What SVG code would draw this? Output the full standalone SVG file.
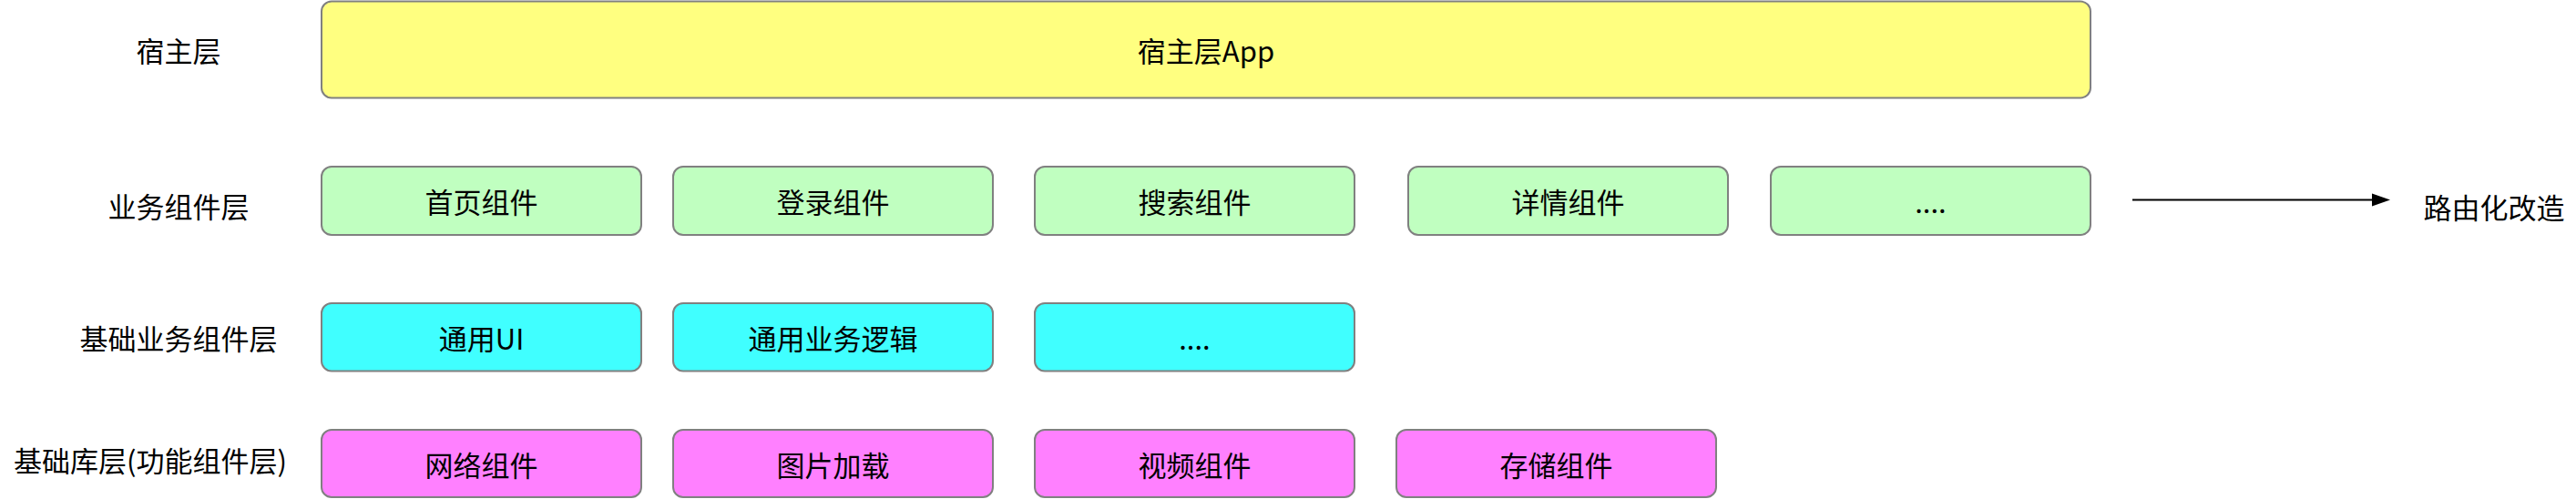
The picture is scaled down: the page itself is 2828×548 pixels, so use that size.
<svg xmlns="http://www.w3.org/2000/svg" width="2828" height="548" viewBox="0 0 2828 548">
<style>
.box{stroke:#808080;stroke-width:2}
.y{fill:#FFFF80}.g{fill:#C0FFC0}.c{fill:#40FFFF}.m{fill:#FF80FF}
text{font-family:"Noto Sans CJK SC","Liberation Sans",sans-serif;font-size:31px;fill:#000;text-anchor:middle;dominant-baseline:central}
</style>
<rect width="2828" height="548" fill="#fff"/>
<g id="labels">
<text x="196" y="54">宿主层</text>
<text x="196" y="225">业务组件层</text>
<text x="196" y="370">基础业务组件层</text>
<text x="165" y="504">基础库层(功能组件层)</text>
</g>
<g id="host"><rect class="box y" x="353" y="1.5" width="1942" height="106" rx="11"/><text x="1324" y="54">宿主层App</text></g>
<g id="biz1"><rect class="box g" x="353" y="183" width="351" height="75" rx="11"/><text x="528.5" y="220">首页组件</text></g>
<g id="biz2"><rect class="box g" x="739" y="183" width="351" height="75" rx="11"/><text x="914.5" y="220">登录组件</text></g>
<g id="biz3"><rect class="box g" x="1136" y="183" width="351" height="75" rx="11"/><text x="1311.5" y="220">搜索组件</text></g>
<g id="biz4"><rect class="box g" x="1546" y="183" width="351" height="75" rx="11"/><text x="1721.5" y="220">详情组件</text></g>
<g id="biz5"><rect class="box g" x="1944" y="183" width="351" height="75" rx="11"/><text x="2119.5" y="220">....</text></g>
<g id="base1"><rect class="box c" x="353" y="333" width="351" height="74.5" rx="11"/><text x="528.5" y="370">通用UI</text></g>
<g id="base2"><rect class="box c" x="739" y="333" width="351" height="74.5" rx="11"/><text x="914.5" y="370">通用业务逻辑</text></g>
<g id="base3"><rect class="box c" x="1136" y="333" width="351" height="74.5" rx="11"/><text x="1311.5" y="370">....</text></g>
<g id="lib1"><rect class="box m" x="353" y="472" width="351" height="74" rx="11"/><text x="528.5" y="509">网络组件</text></g>
<g id="lib2"><rect class="box m" x="739" y="472" width="351" height="74" rx="11"/><text x="914.5" y="509">图片加载</text></g>
<g id="lib3"><rect class="box m" x="1136" y="472" width="351" height="74" rx="11"/><text x="1311.5" y="509">视频组件</text></g>
<g id="lib4"><rect class="box m" x="1533" y="472" width="351" height="74" rx="11"/><text x="1708.5" y="509">存储组件</text></g>
<g id="connectors">
<line x1="2341" y1="219.5" x2="2606" y2="219.5" stroke="#000" stroke-width="2"/>
<polygon points="2604,212.5 2624,219.5 2604,226.5" fill="#000"/>
</g>
<g id="routing"><text x="2738" y="226">路由化改造</text></g>
</svg>
